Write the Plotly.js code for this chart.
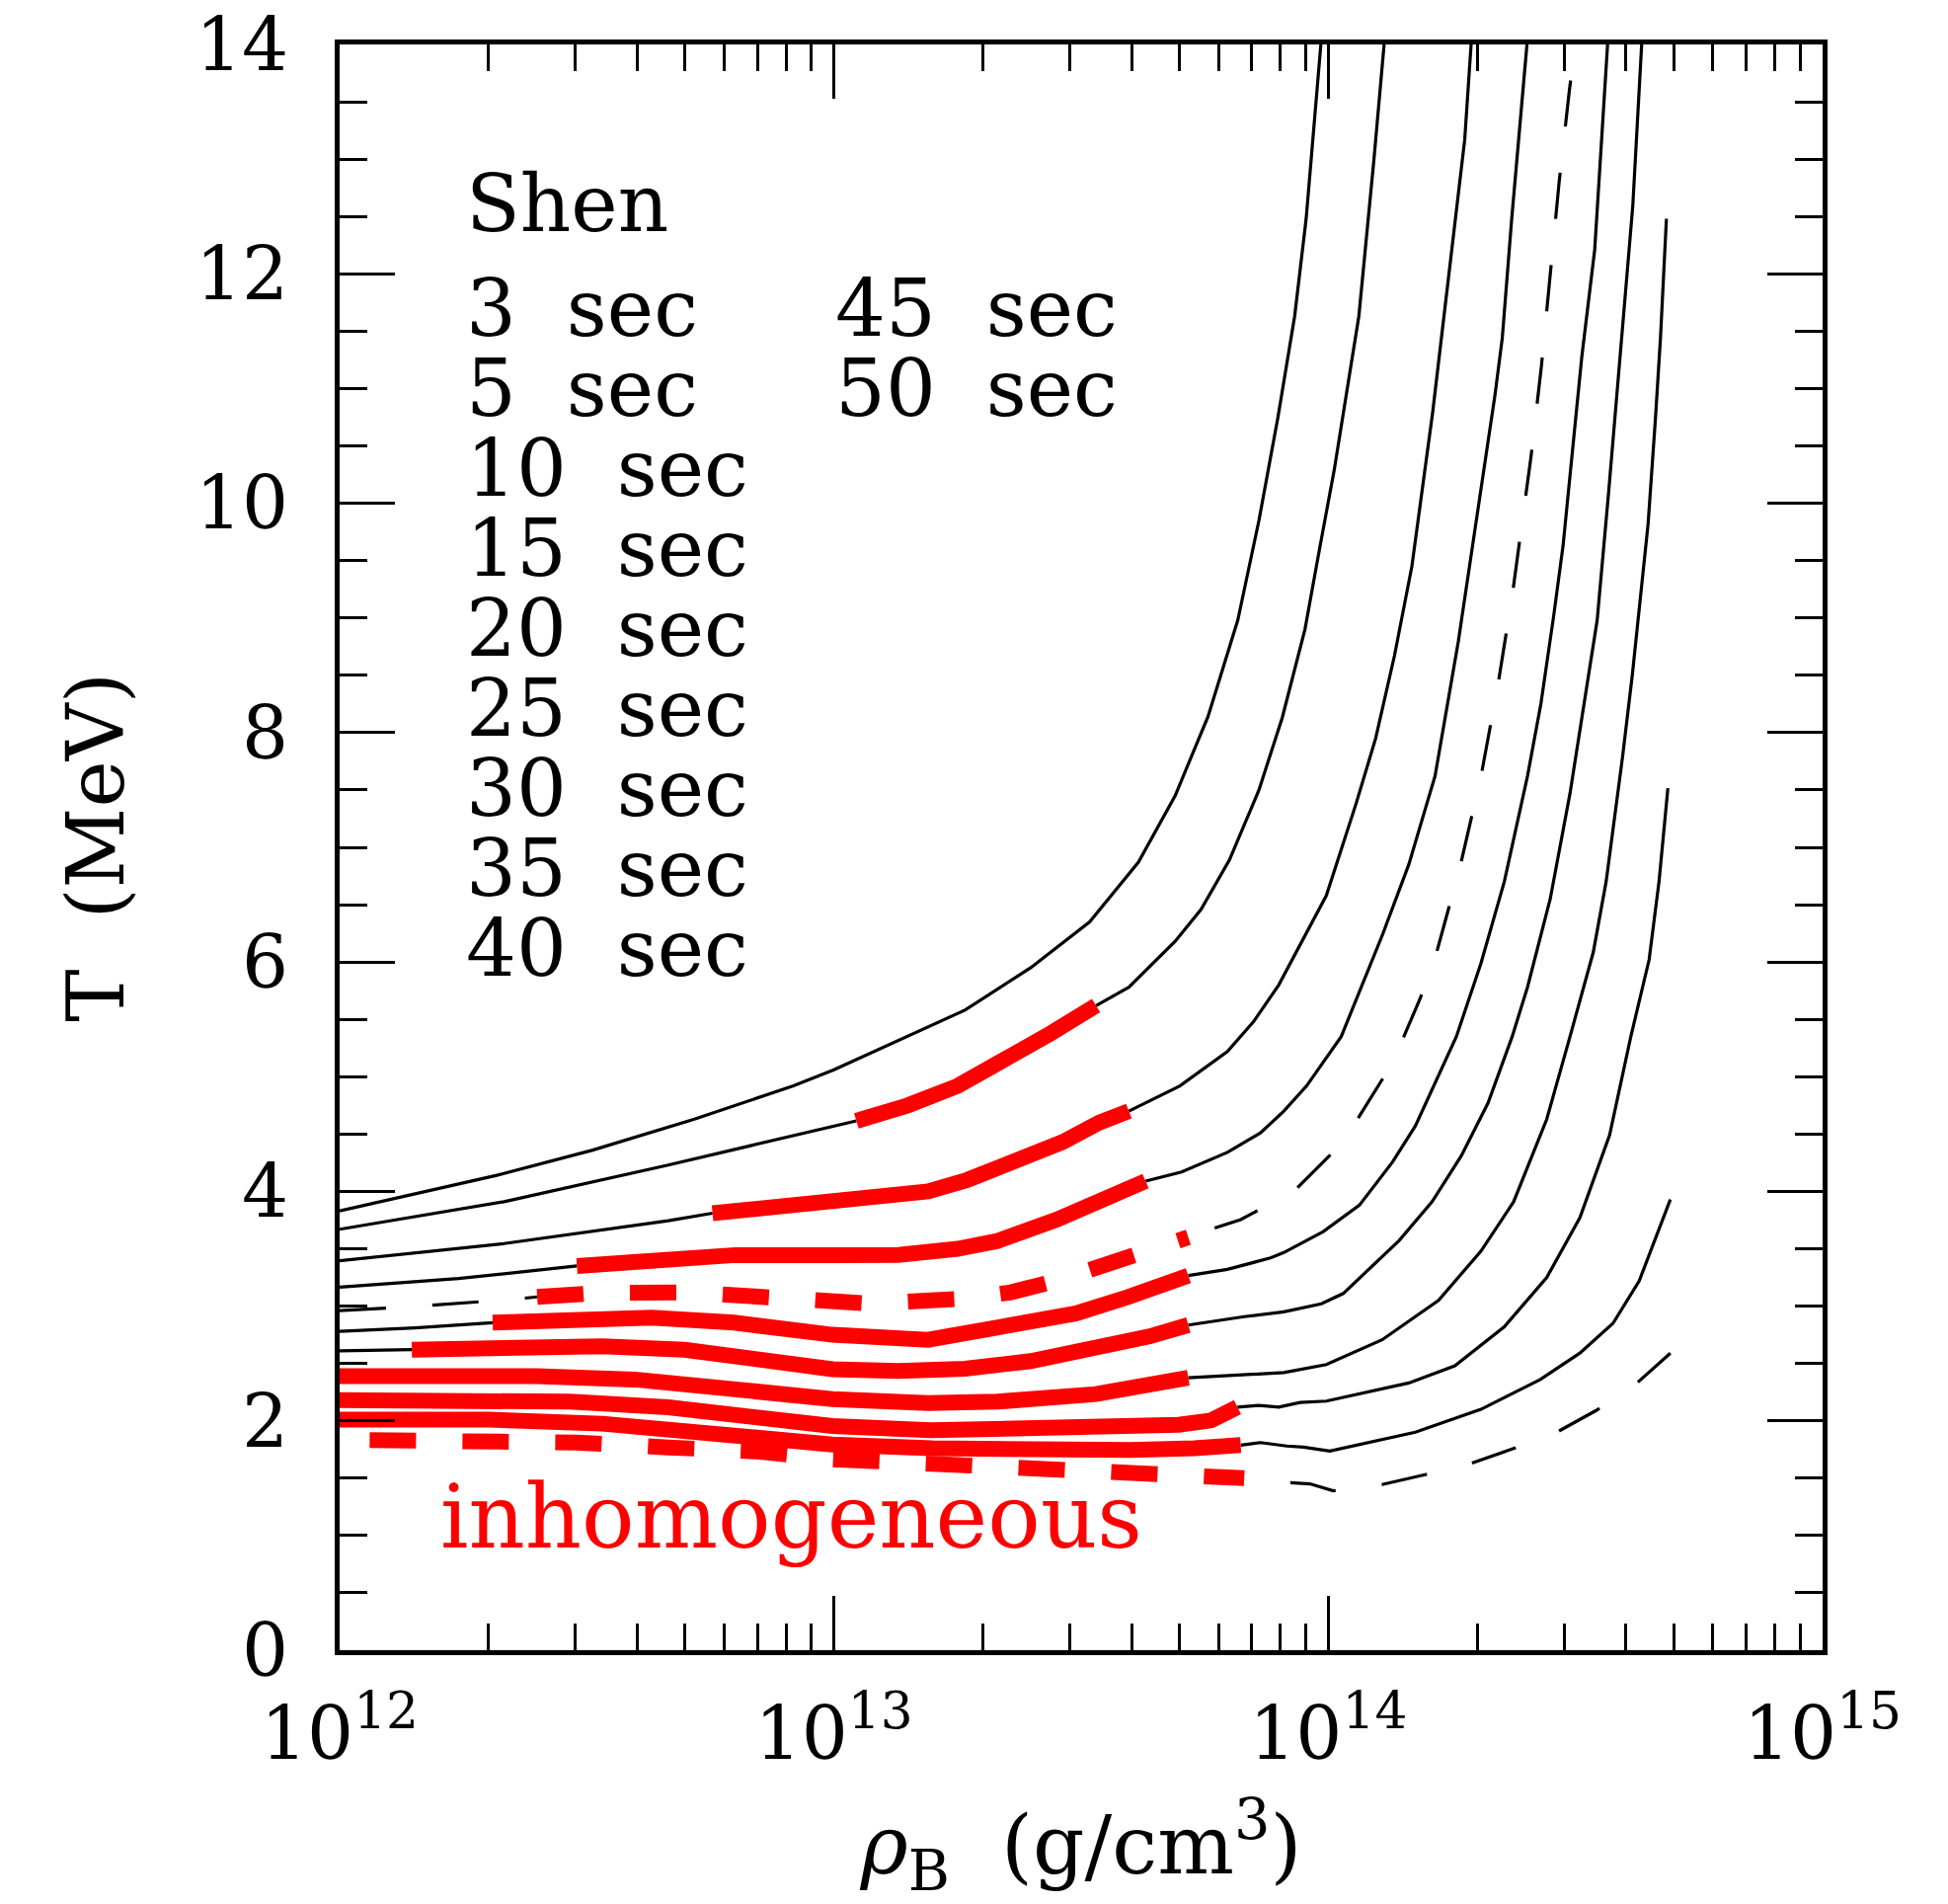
<!DOCTYPE html>
<html>
<head>
<meta charset="utf-8">
<script src="https://cdn.plot.ly/plotly-3.0.1.min.js"></script>
<style>html,body{margin:0;padding:0;background:#fff;}</style>
</head>
<body>
<div id="chart" style="width:1973px;height:1928px;"></div>
<script>
// ---------------- data: T (MeV) vs rho_B (g/cm^3), Shen EOS ----------------
// 3 sec (homogeneous only)
const rho3 = [1.00e12, 2.08e12, 3.25e12, 5.22e12, 8.28e12, 1.00e13, 1.84e13, 2.50e13, 3.29e13, 4.13e13, 4.90e13, 5.71e13, 6.56e13, 7.24e13, 7.91e13, 8.55e13, 9.02e13, 9.33e13, 9.66e13];
const T3   = [3.83, 4.14, 4.36, 4.63, 4.92, 5.06, 5.58, 5.95, 6.35, 6.87, 7.45, 8.14, 8.98, 9.85, 10.75, 11.63, 12.48, 13.25, 14.0];

// 5 sec
const rho5_lo  = [1.00e12, 2.15e12, 4.62e12, 9.93e12, 1.11e13];
const T5_lo    = [3.67, 3.91, 4.23, 4.56, 4.615];
const rho5_inh = [1.11e13, 1.41e13, 1.78e13, 2.24e13, 2.75e13, 3.39e13];
const T5_inh   = [4.615, 4.75, 4.92, 5.15, 5.38, 5.62];
const rho5_hi  = [3.39e13, 3.95e13, 4.90e13, 5.53e13, 6.31e13, 7.24e13, 8.07e13, 8.97e13, 9.59e13, 1.028e14, 1.153e14, 1.236e14, 1.297e14];
const T5_hi    = [5.62, 5.78, 6.18, 6.46, 6.89, 7.50, 8.13, 8.90, 9.59, 10.29, 11.63, 12.98, 14.0];

// 10 sec
const rho10_lo  = [1.00e12, 2.15e12, 4.62e12, 5.68e12];
const T10_lo    = [3.395, 3.545, 3.745, 3.81];
const rho10_inh = [5.68e12, 9.93e12, 1.55e13, 1.86e13, 2.34e13, 2.90e13, 3.44e13, 3.95e13];
const T10_inh   = [3.81, 3.91, 4.0, 4.10, 4.256, 4.43, 4.60, 4.70];
const rho10_hi  = [3.95e13, 5.01e13, 6.25e13, 7.06e13, 7.94e13, 8.77e13, 9.91e13, 1.138e14, 1.247e14, 1.361e14, 1.476e14, 1.626e14, 1.758e14, 1.888e14, 1.945e14];
const T10_hi    = [4.70, 4.92, 5.22, 5.48, 5.80, 6.15, 6.58, 7.38, 7.95, 8.67, 9.45, 10.79, 12.02, 13.17, 14.0];

// 15 sec
const rho15_lo  = [1.00e12, 1.74e12, 3.02e12];
const T15_lo    = [3.166, 3.24, 3.35];
const rho15_inh = [3.02e12, 4.62e12, 6.31e12, 1.00e13, 1.35e13, 1.78e13, 2.14e13, 2.82e13, 3.39e13, 3.83e13, 4.27e13];
const T15_inh   = [3.35, 3.41, 3.445, 3.445, 3.447, 3.50, 3.567, 3.754, 3.91, 4.01, 4.09];
const rho15_hi  = [4.27e13, 5.05e13, 6.25e13, 7.29e13, 8.13e13, 9.04e13, 1.062e14, 1.288e14, 1.455e14, 1.644e14, 1.832e14, 2.028e14, 2.173e14, 2.249e14, 2.350e14, 2.523e14];
const T15_hi    = [4.09, 4.17, 4.34, 4.51, 4.70, 4.92, 5.35, 6.24, 6.85, 7.62, 8.79, 10.09, 10.94, 11.44, 12.48, 14.0];

// 20 sec (dashed)
const rho20_lo  = [1.00e12, 1.46e12, 2.25e12, 2.51e12];
const T20_lo    = [2.96, 3.0, 3.06, 3.08];
const rho20_inh = [2.51e12, 3.30e12, 5.07e12, 7.78e12, 9.64e12, 1.19e13, 1.84e13, 2.28e13, 2.82e13, 3.44e13, 4.20e13, 5.21e13];
const T20_inh   = [3.08, 3.114, 3.12, 3.065, 3.037, 3.022, 3.065, 3.12, 3.22, 3.34, 3.48, 3.60];
const rho20_hi  = [5.89e13, 6.65e13, 8.51e13, 1.072e14, 1.349e14, 1.535e14, 1.648e14, 1.845e14, 2.037e14, 2.203e14, 2.355e14, 2.570e14, 2.698e14, 2.812e14, 2.931e14, 3.076e14, 3.162e14];
const T20_hi    = [3.68, 3.754, 4.0, 4.43, 5.12, 5.685, 6.05, 6.82, 7.62, 8.41, 9.19, 10.40, 11.19, 12.0, 12.80, 13.61, 14.0];

// 25 sec
const rho25_lo  = [1.00e12, 1.42e12, 2.04e12];
const T25_lo    = [2.78, 2.81, 2.856];
const rho25_inh = [2.04e12, 2.92e12, 4.28e12, 6.28e12, 9.93e12, 1.55e13, 2.07e13, 3.09e13, 3.94e13, 4.60e13, 5.21e13];
const T25_inh   = [2.856, 2.893, 2.90, 2.856, 2.75, 2.706, 2.79, 2.936, 3.08, 3.194, 3.266];
const rho25_hi  = [5.21e13, 6.25e13, 7.64e13, 8.13e13, 9.77e13, 1.156e14, 1.349e14, 1.500e14, 1.816e14, 2.037e14, 2.270e14, 2.529e14, 2.692e14, 2.858e14, 2.985e14, 3.090e14, 3.258e14, 3.459e14, 3.673e14];
const T25_hi    = [3.266, 3.32, 3.42, 3.467, 3.65, 3.88, 4.256, 4.57, 5.35, 5.99, 6.70, 7.62, 8.25, 9.02, 9.63, 10.29, 11.28, 12.21, 14.0];

// 30 sec
const rho30_lo  = [1.00e12, 1.40e12];
const T30_lo    = [2.61, 2.62];
const rho30_inh = [1.40e12, 2.15e12, 3.40e12, 4.99e12, 6.78e12, 9.93e12, 1.35e13, 1.84e13, 2.50e13, 3.29e13, 4.34e13, 5.21e13];
const T30_inh   = [2.62, 2.65, 2.65, 2.62, 2.534, 2.45, 2.434, 2.454, 2.52, 2.62, 2.735, 2.835];
const rho30_hi  = [5.21e13, 6.76e13, 8.13e13, 9.68e13, 1.072e14, 1.390e14, 1.622e14, 1.858e14, 2.104e14, 2.355e14, 2.529e14, 2.812e14, 3.083e14, 3.327e14, 3.499e14, 3.690e14, 3.855e14, 3.990e14, 4.130e14, 4.305e14];
const T30_hi    = [2.835, 2.908, 2.95, 3.02, 3.11, 3.57, 3.91, 4.31, 4.77, 5.35, 5.78, 6.55, 7.47, 8.36, 8.98, 10.09, 11.05, 11.82, 12.59, 14.0];

// 35 sec
const rho35_inh = [1.00e12, 1.63e12, 2.50e12, 3.96e12, 6.28e12, 9.93e12, 1.55e13, 2.14e13, 3.39e13, 4.60e13, 5.21e13];
const T35_inh   = [2.39, 2.397, 2.39, 2.36, 2.276, 2.19, 2.155, 2.167, 2.233, 2.319, 2.376];
const rho35_hi  = [5.21e13, 6.76e13, 8.13e13, 9.91e13, 1.285e14, 1.671e14, 2.037e14, 2.371e14, 2.767e14, 3.083e14, 3.436e14, 3.648e14, 3.936e14, 4.121e14, 4.285e14, 4.436e14, 4.592e14, 4.699e14, 4.831e14];
const T35_hi    = [2.376, 2.405, 2.42, 2.49, 2.706, 3.05, 3.48, 3.91, 4.63, 5.35, 6.085, 6.70, 7.78, 8.5, 9.2, 9.82, 10.75, 11.44, 12.48];

// 40 sec
const rho40_inh = [1.00e12, 2.00e12, 2.92e12, 4.62e12, 6.78e12, 9.93e12, 1.57e13, 2.50e13, 3.95e13, 4.98e13, 5.79e13, 6.27e13, 6.55e13];
const T40_inh   = [2.18, 2.175, 2.167, 2.118, 2.032, 1.955, 1.917, 1.923, 1.946, 1.966, 2.003, 2.08, 2.12];
const rho40_hi  = [6.55e13, 7.24e13, 7.94e13, 8.77e13, 9.91e13, 1.455e14, 1.803e14, 2.270e14, 2.767e14, 3.228e14, 3.707e14, 4.093e14, 4.457e14, 4.667e14, 4.864e14];
const T40_hi    = [2.12, 2.135, 2.12, 2.16, 2.172, 2.33, 2.48, 2.82, 3.25, 3.77, 4.49, 5.35, 6.02, 6.70, 7.515];

// 45 sec
const rho45_inh = [1.00e12, 2.00e12, 3.40e12, 5.38e12, 9.93e12, 1.58e13, 2.50e13, 3.98e13, 5.36e13, 6.65e13];
const T45_inh   = [2.01, 2.01, 1.975, 1.903, 1.794, 1.76, 1.745, 1.745, 1.76, 1.788];
const rho45_hi  = [6.65e13, 7.29e13, 8.24e13, 8.91e13, 1.007e14, 1.500e14, 2.037e14, 2.685e14, 3.228e14, 3.767e14, 4.256e14, 4.920e14];
const T45_hi    = [1.788, 1.81, 1.78, 1.77, 1.737, 1.90, 2.10, 2.36, 2.59, 2.85, 3.22, 3.93];

// 50 sec (dashed)
const rho50_inh = [1.15e12, 1.96e12, 3.01e12, 4.62e12, 7.10e12, 9.93e12, 1.67e13, 2.57e13, 3.95e13, 6.76e13];
const T50_inh   = [1.831, 1.831, 1.811, 1.768, 1.731, 1.665, 1.616, 1.558, 1.524, 1.50];
const rho50_hi  = [8.38e13, 9.18e13, 1.023e14, 1.285e14, 1.570e14, 1.945e14, 2.377e14, 2.897e14, 3.483e14, 4.188e14, 4.920e14];
const T50_hi    = [1.46, 1.45, 1.39, 1.444, 1.53, 1.63, 1.76, 1.90, 2.09, 2.32, 2.59];

// labels
const eosLabel = "Shen";
const timesCol1 = [3, 5, 10, 15, 20, 25, 30, 35, 40];
const timesCol2 = [45, 50];
const phaseLabel = "inhomogeneous";
const xTickVals = [1e12, 1e13, 1e14, 1e15];
const xTickText = ["10<sup>12</sup>", "10<sup>13</sup>", "10<sup>14</sup>", "10<sup>15</sup>"];
const yTickVals = [0, 2, 4, 6, 8, 10, 12, 14];

// ---------------- traces ----------------
const BLACK = "#000000", RED = "#ff0000";
const DASH = "47px,47px";
const THIN = 3.2, THICK = 16;
const traces = [];
function seg(x, y, color, width, dash) {
  traces.push({type: "scatter", mode: "lines", x: x, y: y,
    line: {color: color, width: width, dash: dash || "solid"},
    hoverinfo: "skip", showlegend: false, cliponaxis: true});
}
// homogeneous (black, thin)
seg(rho3, T3, BLACK, THIN);
seg(rho5_lo, T5_lo, BLACK, THIN);   seg(rho5_hi, T5_hi, BLACK, THIN);
seg(rho10_lo, T10_lo, BLACK, THIN); seg(rho10_hi, T10_hi, BLACK, THIN);
seg(rho15_lo, T15_lo, BLACK, THIN); seg(rho15_hi, T15_hi, BLACK, THIN);
seg(rho20_lo, T20_lo, BLACK, THIN, DASH); seg(rho20_hi, T20_hi, BLACK, THIN, DASH);
seg(rho25_lo, T25_lo, BLACK, THIN); seg(rho25_hi, T25_hi, BLACK, THIN);
seg(rho30_lo, T30_lo, BLACK, THIN); seg(rho30_hi, T30_hi, BLACK, THIN);
seg(rho35_hi, T35_hi, BLACK, THIN);
seg(rho40_hi, T40_hi, BLACK, THIN);
seg(rho45_hi, T45_hi, BLACK, THIN);
seg(rho50_hi, T50_hi, BLACK, THIN, DASH);
// inhomogeneous (red, thick)
seg(rho5_inh, T5_inh, RED, THICK);
seg(rho10_inh, T10_inh, RED, THICK);
seg(rho15_inh, T15_inh, RED, THICK);
seg(rho20_inh, T20_inh, RED, THICK, DASH);
seg(rho25_inh, T25_inh, RED, THICK);
seg(rho30_inh, T30_inh, RED, THICK);
seg(rho35_inh, T35_inh, RED, THICK);
seg(rho40_inh, T40_inh, RED, THICK);
seg(rho45_inh, T45_inh, RED, THICK);
seg(rho50_inh, T50_inh, RED, THICK, DASH);

// ---------------- layout ----------------
const W = 1973, H = 1928;
const M = {l: 344, r: 127, t: 45, b: 257};
const PW = W - M.l - M.r, PH = H - M.t - M.b;
const px2x = p => (p - M.l) / PW;
const px2y = p => (H - M.b - p) / PH;

const FONT = "DejaVu Serif";
const textSize = 80;
const rowStep = 81;
const annotations = [];
function label(text, leftPx, baselinePx, size, color, boxH) {
  const a = {text: text, xref: "paper", yref: "paper",
    x: px2x(leftPx), y: px2y(baselinePx - 0.346 * size),
    xanchor: "left", yanchor: "middle", valign: "middle", showarrow: false, borderpad: 0,
    font: {family: FONT, size: size, color: color}};
  if (boxH) a.height = boxH;
  annotations.push(a);
}
label(eosLabel, 471, 234, textSize, BLACK, 76);
timesCol1.forEach((t, i) => label(t + "\u00a0\u00a0sec", 471, 340 + rowStep * i, textSize, BLACK, 76));
timesCol2.forEach((t, i) => label(t + "\u00a0\u00a0sec", 845, 340 + rowStep * i, textSize, BLACK, 76));
label(phaseLabel, 445, 1567, 89, RED);

const minorX = [];
[1e12, 1e13, 1e14].forEach(d => { for (let k = 2; k <= 9; k++) minorX.push(k * d); });

const axisCommon = {
  showline: true, linewidth: 5, linecolor: BLACK, mirror: "ticks",
  ticks: "inside", tickwidth: 3, tickcolor: BLACK,
  showgrid: false, zeroline: false, automargin: false,
  tickfont: {family: FONT, size: 74, color: BLACK}
};

const layout = {
  width: W, height: H, margin: M,
  paper_bgcolor: "#ffffff", plot_bgcolor: "#ffffff",
  showlegend: false, hovermode: false,
  xaxis: Object.assign({}, axisCommon, {
    type: "log", range: [12, 15],
    tickmode: "array", tickvals: xTickVals, ticktext: xTickText, ticklen: 55,
    minor: {ticks: "inside", ticklen: 27, tickwidth: 3, tickcolor: BLACK, tickmode: "array", tickvals: minorX},
    ticklabelstandoff: 16,
    title: {text: "<i>\u03c1</i><sub>B</sub>\u00a0\u00a0(g/cm<sup>3</sup>)", standoff: 50,
            font: {family: FONT, size: 82, color: BLACK}}
  }),
  yaxis: Object.assign({}, axisCommon, {
    range: [0, 14], tickmode: "array", tickvals: yTickVals, ticklen: 56,
    minor: {ticks: "inside", ticklen: 28, tickwidth: 3, tickcolor: BLACK, dtick: 0.5, tick0: 0},
    ticklabelstandoff: 32,
    title: {text: "T\u00a0\u00a0(MeV)", standoff: 48,
            font: {family: FONT, size: 80, color: BLACK}}
  }),
  annotations: annotations
};

Plotly.newPlot("chart", traces, layout, {staticPlot: true, displayModeBar: false});
</script>
</body>
</html>
